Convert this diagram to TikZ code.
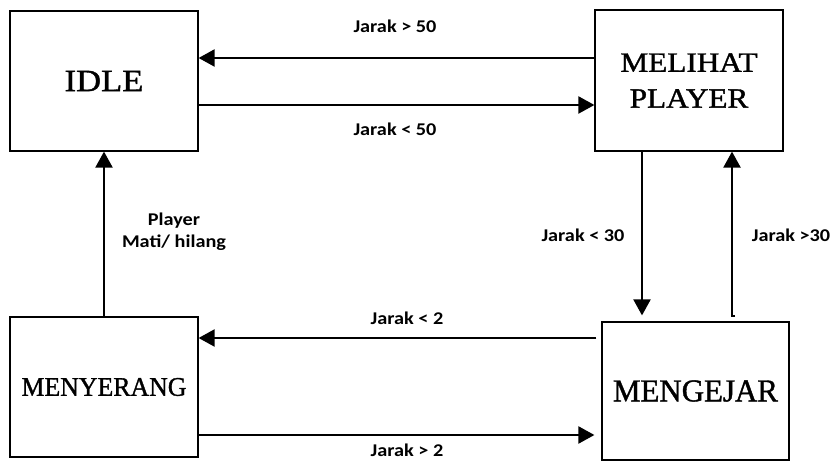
\documentclass[tikz,border=0pt]{standalone}
\usepackage{fontspec}
\usepackage{graphicx}
\setmainfont{Liberation Serif}
\newfontfamily\statefont[FakeBold=1.2]{Liberation Serif}
\newfontfamily\lblfont{Carlito}
\usetikzlibrary{arrows.meta,calc}
\newcommand\hsc[2]{\scalebox{#1}[1]{#2}}
\tikzset{
  statebox/.style={draw=black, line width=1.2bp, inner sep=0pt, minimum width=188bp, minimum height=140bp, align=center},
  arr/.style={line width=2.2bp, -{Triangle[length=16bp,width=17bp]}},
  lbl/.style={font=\lblfont\bfseries\fontsize{18}{22}\selectfont, inner sep=0pt, align=center}
}
\begin{document}
\begin{tikzpicture}[x=1bp,y=-1bp]
\useasboundingbox (0,0) rectangle (837,461);
\fill[white] (0,0) rectangle (837,461);
% states
\node[statebox, font=\statefont\fontsize{31}{36}\selectfont] (idle) at (104,81) {\hsc{1.12}{IDLE}};
\node[statebox, minimum height=141bp, font=\statefont\fontsize{28}{36}\selectfont] (mel) at (689,80.5) {\hsc{1.12}{MELIHAT}\\\hsc{1.12}{PLAYER}};
\node[statebox, font=\statefont\fontsize{27}{32}\selectfont] (mny) at (104,387) {\hsc{0.96}{MENYERANG}};
\node[statebox, minimum width=187bp, minimum height=138bp, font=\statefont\fontsize{32}{36}\selectfont] (mge) at (695.5,391) {\hsc{0.97}{MENGEJAR}};
% connectors
\draw[arr] ($(mel.west)+(0,-22.5)$) -- ($(idle.east |- mel.west)+(0,-22.5)$);
\draw[arr] ($(idle.east)+(0,24)$) -- ($(mel.west |- idle.east)+(0,24)$);
\draw[arr] ($(mel.south)+(-47,0)$) -- ($(mge.north -| mel.south)+(-47,-6)$);
\draw[arr] ($(mge.north -| mel.south)+(46,-5)$) -- ($(mge.north -| mel.south)+(43,-5)$) -- ($(mel.south)+(43,0)$);
\draw[arr] ($(mge.west)+(-5,-53)$) -- ($(mge.west -| mny.east)+(0,-53)$);
\draw[arr] ($(mny.east)+(0,48)$) -- ($(mny.east -| mge.west)+(-7,48)$);
\draw[arr] (mny.north) -- (idle.south);
% labels
\node[lbl] (l1) at (395,26) {\hsc{1.13}{Jarak > 50}};
\node[lbl] (l2) at (395,129) {\hsc{1.13}{Jarak < 50}};
\node[lbl] (l3) at (583,235) {\hsc{1.13}{Jarak < 30}};
\node[lbl] (l4) at (791,235) {\hsc{1.13}{Jarak >30}};
\node[lbl] (l5) at (174,232) {\hsc{1.13}{Player}\\\hsc{1.13}{Mati/ hilang}};
\node[lbl] (l6) at (407,318) {\hsc{1.13}{Jarak < 2}};
\node[lbl] (l7) at (407,450) {\hsc{1.13}{Jarak > 2}};
\end{tikzpicture}
\end{document}
